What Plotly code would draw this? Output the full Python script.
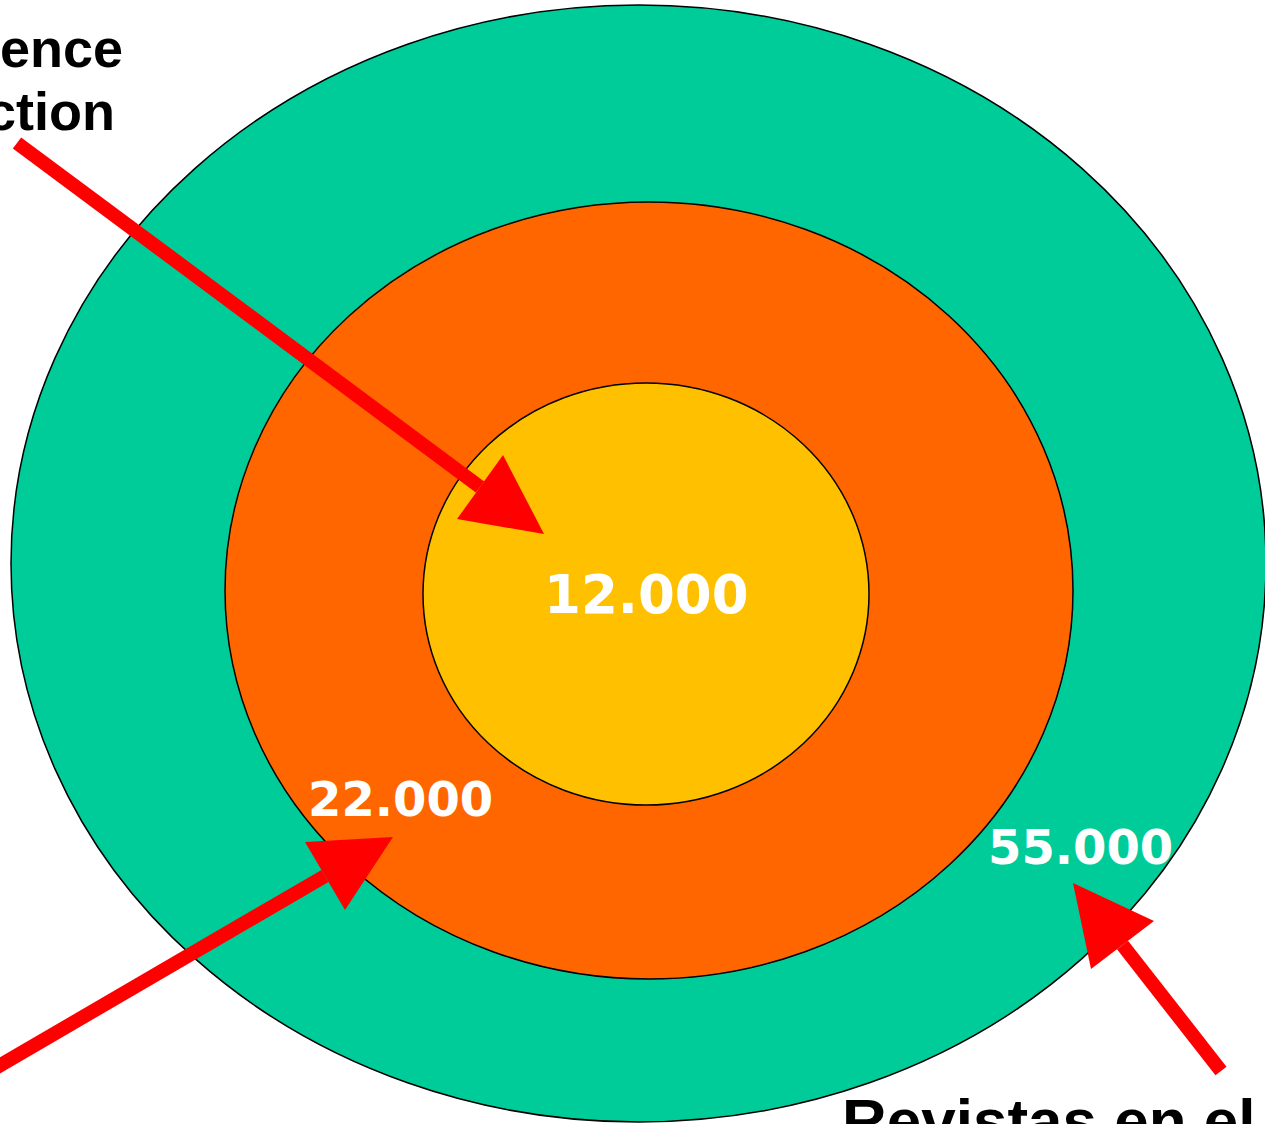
import plotly.graph_objects as go

# ---- data ----
values = [55000, 22000, 12000]          # outer, middle, inner ring
ring_colors = ["#00CC99", "#FF6600", "#FFC000"]
top_label = ["Web of Science", "Core Collection"]
bottom_label = "Revistas en el mundo"

# ---- layout geometry (pixel-like coordinates) ----
W, H = 1265, 1124
ellipses = [  # x0, y0, x1, y1
    (11, 5, 1266, 1122),
    (225, 202, 1073, 979),
    (423, 383, 869, 805),
]
label_pos = [(1080, 846, 48), (400, 798, 48), (646, 593, 53)]
arrows = [  # line start, head tip, head corner A, head corner B
    ((17, 143), (544, 534), (457, 519), (503, 455)),
    ((-20, 1077), (393, 837), (305, 842), (345, 910)),
    ((1221, 1071), (1073, 883), (1154, 921), (1091, 969)),
]


def fmt(v):
    return f"{v:,}".replace(",", ".")


fig = go.Figure()
# invisible trace to establish axes
fig.add_trace(go.Scatter(x=[0, W], y=[0, H], mode="markers",
                         marker=dict(opacity=0), hoverinfo="skip", showlegend=False))

shapes = []
for (x0, y0, x1, y1), c in zip(ellipses, ring_colors):
    shapes.append(dict(type="circle", xref="x", yref="y", x0=x0, y0=y0, x1=x1, y1=y1,
                       fillcolor=c, line=dict(color="black", width=1.5), layer="above"))

for (s, tip, a, b) in arrows:
    bx, by = (a[0] + b[0]) / 2, (a[1] + b[1]) / 2
    shapes.append(dict(type="line", xref="x", yref="y", x0=s[0], y0=s[1], x1=bx, y1=by,
                       line=dict(color="#FF0000", width=14), layer="above"))
    shapes.append(dict(type="path", xref="x", yref="y",
                       path=f"M {tip[0]} {tip[1]} L {a[0]} {a[1]} L {b[0]} {b[1]} Z",
                       fillcolor="#FF0000", line=dict(color="#FF0000", width=0), layer="above"))

annotations = []
for v, (x, y, fs) in zip(values, label_pos):
    annotations.append(dict(x=x, y=y + 1, xref="x", yref="y", text=f"<b>{fmt(v)}</b>",
                            showarrow=False, xanchor="center", yanchor="middle",
                            font=dict(family="DejaVu Sans", size=fs, color="white")))

annotations.append(dict(x=125, y=48, xref="x", yref="y", text=f"<b>{top_label[0]}</b>",
                        showarrow=False, xanchor="right", yanchor="middle",
                        font=dict(family="Liberation Sans, Arial", size=54, color="black")))
annotations.append(dict(x=117, y=111, xref="x", yref="y", text=f"<b>{top_label[1]}</b>",
                        showarrow=False, xanchor="right", yanchor="middle",
                        font=dict(family="Liberation Sans, Arial", size=54, color="black")))
annotations.append(dict(x=840, y=1120.5, xref="x", yref="y", text=f"<b>{bottom_label}</b>",
                        showarrow=False, xanchor="left", yanchor="middle",
                        font=dict(family="Liberation Sans, Arial", size=62, color="black")))

fig.update_layout(
    width=W, height=H,
    margin=dict(l=0, r=0, t=0, b=0),
    paper_bgcolor="white", plot_bgcolor="white",
    xaxis=dict(range=[0, W], visible=False, fixedrange=True),
    yaxis=dict(range=[H, 0], visible=False, fixedrange=True),
    shapes=shapes, annotations=annotations,
    showlegend=False,
)

fig.write_html("out.html", config={"displayModeBar": False},
               post_script="document.body.style.margin='0';document.body.style.overflow='hidden';")
